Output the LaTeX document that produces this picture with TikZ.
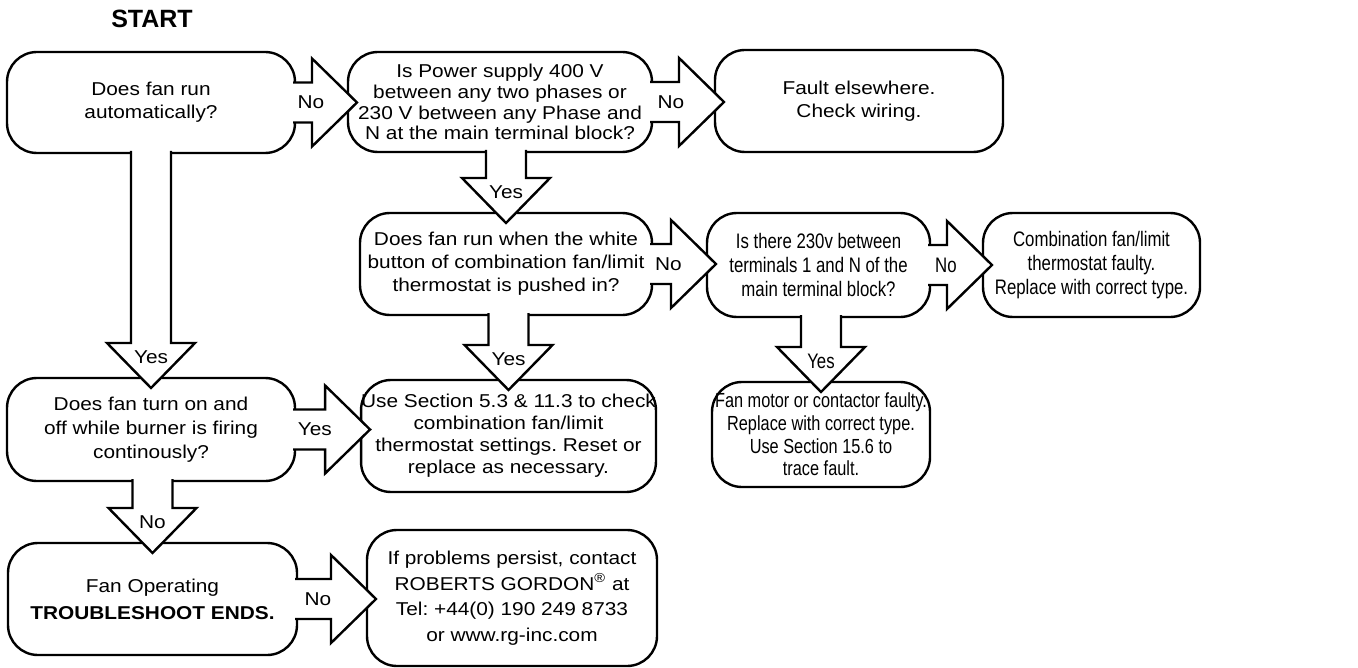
\documentclass[tikz,border=0pt]{standalone}
\usepackage{fontspec}
\setmainfont{Liberation Sans}
\newfontfamily\widesans{Liberation Sans}[FakeStretch=1.12]
\newfontfamily\narrowsans{Liberation Sans}[FakeStretch=0.8]
\frenchspacing
\usetikzlibrary{calc}
\tikzset{
    box/.style={draw,line width=1.2pt,rounded corners=15pt,fill=white,align=center,inner sep=0pt,outer sep=0pt,
        font=\widesans\fontsize{9.3}{11.5}\selectfont},
    narrowbox/.style={box,font=\narrowsans\fontsize{10.5}{11.8}\selectfont},
    blk/.style={draw,line width=1.2pt,fill=white,line join=miter},
    lbl/.style={inner sep=0pt,font=\widesans\fontsize{9.3}{11}\selectfont},
}
\newcommand{\nrw}{\narrowsans\fontsize{10.5}{11.8}\selectfont}
% block arrow to the right: source, target, label
\newcommand{\rblock}[3]{%
    \path (#1.east) coordinate (rs) (#2.west |- #1.east) coordinate (rt);
    \filldraw[blk] ($(rs)+(-2,-20)$) -- ($(rt)+(-36,-20)$) -- ($(rt)+(-36,-44)$) -- ($(rt)+(9,0)$)
        -- ($(rt)+(-36,44)$) -- ($(rt)+(-36,20)$) -- ($(rs)+(-2,20)$);
    \node[lbl] (#1-#2) at ($(rs)!0.3!(rt)$) {#3};
}
% block arrow downwards: source, target, label
\newcommand{\dblock}[3]{%
    \path (#2.north |- #1.south) coordinate (ds) (#2.north) coordinate (dt);
    \filldraw[blk] ($(ds)+(-20,-2)$) -- ($(dt)+(-20,-35)$) -- ($(dt)+(-44,-35)$) -- ($(dt)+(0,10)$)
        -- ($(dt)+(44,-35)$) -- ($(dt)+(20,-35)$) -- ($(ds)+(20,-2)$);
    \node[lbl] (#1-#2) at ($(dt)+(0,-21)$) {#3};
}
\begin{document}
\begin{tikzpicture}[x=0.5pt,y=-0.5pt]
    \useasboundingbox (0,0) rectangle (1358,668);
    \node[font=\bfseries\fontsize{12.5}{14}\selectfont] (start) at (152,19) {START};
    % first row
    \node[box,minimum width=144pt,minimum height=50.5pt] (auto) at (151,102.5) {Does fan run\\automatically?};
    \node[box,minimum width=152pt,minimum height=50pt,font=\widesans\fontsize{9.3}{10.4}\selectfont] (power) at (500,102)
        {Is Power supply 400 V\\between any two phases or\\230 V between any Phase and\\N at the main terminal block?};
    \node[box,minimum width=144pt,minimum height=51pt] (elsewhere) at (859,101) {Fault elsewhere.\\Check wiring.};
    % second row
    \node[box,minimum width=146pt,minimum height=51pt] (whitebtn) at (506,264)
        {Does fan run when the white\\button of combination fan/limit\\thermostat is pushed in?};
    \node[narrowbox,minimum width=111.5pt,minimum height=52pt,font=\narrowsans\fontsize{10.5}{12}\selectfont] (term) at (818.5,265)
        {Is there 230v between\\terminals 1 and N of the\\main terminal block?};
    \node[narrowbox,minimum width=108.5pt,minimum height=52pt] (thermfaulty) at (1091.5,265)
        {Combination fan/limit\\thermostat faulty.\\Replace with correct type.};
    % third row
    \node[box,minimum width=144pt,minimum height=51.5pt,font=\widesans\fontsize{9.3}{12}\selectfont] (onoff) at (151,429.5)
        {Does fan turn on and\\off while burner is firing\\continously?};
    \node[box,minimum width=143.5pt,minimum height=56pt,font=\widesans\fontsize{9.3}{11}\selectfont] (settings) at (508.5,436)
        {Use Section 5.3 \& 11.3 to check\\combination fan/limit\\thermostat settings. Reset or\\replace as necessary.};
    \node[narrowbox,minimum width=109pt,minimum height=52.5pt,font=\narrowsans\fontsize{10.2}{11.4}\selectfont] (motor) at (821,434.5)
        {Fan motor or contactor faulty.\\Replace with correct type.\\Use Section 15.6 to\\trace fault.};
    % last row
    \node[box,minimum width=144.5pt,minimum height=56pt,font=\widesans\fontsize{9.3}{13.5}\selectfont] (operating) at (152.5,599)
        {Fan Operating\\\textbf{TROUBLESHOOT ENDS.}};
    \node[box,minimum width=145pt,minimum height=68pt,font=\widesans\fontsize{9.3}{12.8}\selectfont] (contact) at (512,598)
        {If problems persist, contact\\ROBERTS GORDON\textsuperscript{\textregistered} at\\Tel: +44(0) 190 249 8733\\or www.rg-inc.com};
    % arrows
    \rblock{auto}{power}{No}
    \rblock{power}{elsewhere}{No}
    \rblock{whitebtn}{term}{No}
    \rblock{term}{thermfaulty}{{\nrw No}}
    \rblock{onoff}{settings}{Yes}
    \rblock{operating}{contact}{No}
    \dblock{auto}{onoff}{Yes}
    \dblock{power}{whitebtn}{Yes}
    \dblock{whitebtn}{settings}{Yes}
    \dblock{term}{motor}{{\nrw Yes}}
    \dblock{onoff}{operating}{No}
\end{tikzpicture}
\end{document}
